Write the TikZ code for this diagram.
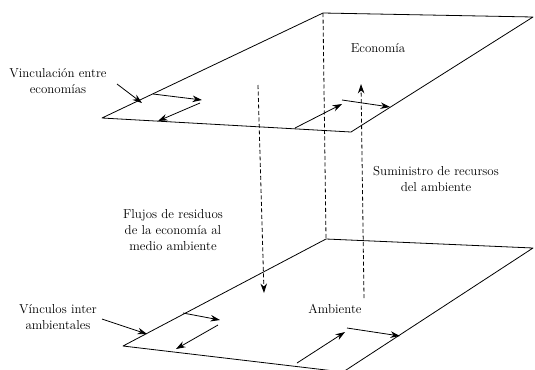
\documentclass[tikz,border=0pt]{standalone}
\usepackage{tikz}
\usetikzlibrary{arrows.meta}

\begin{document}
\begin{tikzpicture}[x=1bp, y=-1bp, >={Stealth[length=9.5bp, width=6.5bp]},
    plano/.style={line width=0.8bp, line join=round},
    flecha/.style={->, line width=0.8bp},
    flujo/.style={line width=0.8bp, dash pattern=on 4bp off 2.5bp},
    etiqueta/.style={font=\fontsize{13}{16}\selectfont, align=center, inner sep=0pt}]
    \useasboundingbox (0,0) rectangle (535,369);
    \clip (0,0) rectangle (535,369);

    % Economia
    \coordinate (E1) at (102,118);
    \coordinate (E2) at (323,13);
    \coordinate (E3) at (533,17);
    \coordinate (E4) at (351,132);
    \draw[plano] (E1) -- (E2) -- (E3) -- (E4) -- cycle;

    % Ambiente
    \coordinate (A1) at (123,346);
    \coordinate (A2) at (326,239);
    \coordinate (A3) at (533,248);
    \coordinate (A4) at (343,372);
    \draw[plano] (A1) -- (A2) -- (A3) -- (A4) -- cycle;

    % Dashed links
    \coordinate (R1) at (258,85);
    \coordinate (R2) at (264,293);
    \coordinate (S1) at (364,298);
    \coordinate (S2) at (361,84);
    \draw[flujo] (E2) -- (A2);
    \draw[flujo, ->] (R1) -- (R2);
    \draw[flujo, ->] (S1) -- (S2);

    % Labels
    \node[etiqueta, anchor=base] (economia) at (378,52) {Econom\'ia};
    \node[etiqueta, anchor=base] (ambiente) at (335,313) {Ambiente};
    \node[etiqueta] (vincEcon) at (58,81) {Vinculaci\'on entre\\econom\'ias};
    \node[etiqueta] (vincAmb) at (58,317) {V\'inculos inter\\ambientales};
    \node[etiqueta] (flujos) at (173,230) {Flujos de residuos\\de la econom\'ia al\\medio ambiente};
    \node[etiqueta] (suministro) at (436,179) {Suministro de recursos\\del ambiente};

    % Arrows on economia
    \coordinate (p1) at (117,84);  \coordinate (p2) at (142,103);
    \coordinate (e1) at (153,94);  \coordinate (e2) at (202,100);
    \coordinate (e3) at (200,103); \coordinate (e4) at (158,121);
    \coordinate (e5) at (295,128); \coordinate (e6) at (342,104);
    \coordinate (e7) at (342,100); \coordinate (e8) at (390,107);
    \draw[flecha] (p1) -- (p2);
    \draw[flecha] (e1) -- (e2);
    \draw[flecha] (e3) -- (e4);
    \draw[flecha] (e5) -- (e6);
    \draw[flecha] (e7) -- (e8);

    % Arrows on ambiente
    \coordinate (q1) at (102,319); \coordinate (q2) at (147,334);
    \coordinate (a1) at (183,313); \coordinate (a2) at (220,320);
    \coordinate (a3) at (218,325); \coordinate (a4) at (176,349);
    \coordinate (a5) at (297,363); \coordinate (a6) at (345,332);
    \coordinate (a7) at (347,328); \coordinate (a8) at (400,336);
    \draw[flecha] (q1) -- (q2);
    \draw[flecha] (a1) -- (a2);
    \draw[flecha] (a3) -- (a4);
    \draw[flecha] (a5) -- (a6);
    \draw[flecha] (a7) -- (a8);
\end{tikzpicture}
\end{document}
